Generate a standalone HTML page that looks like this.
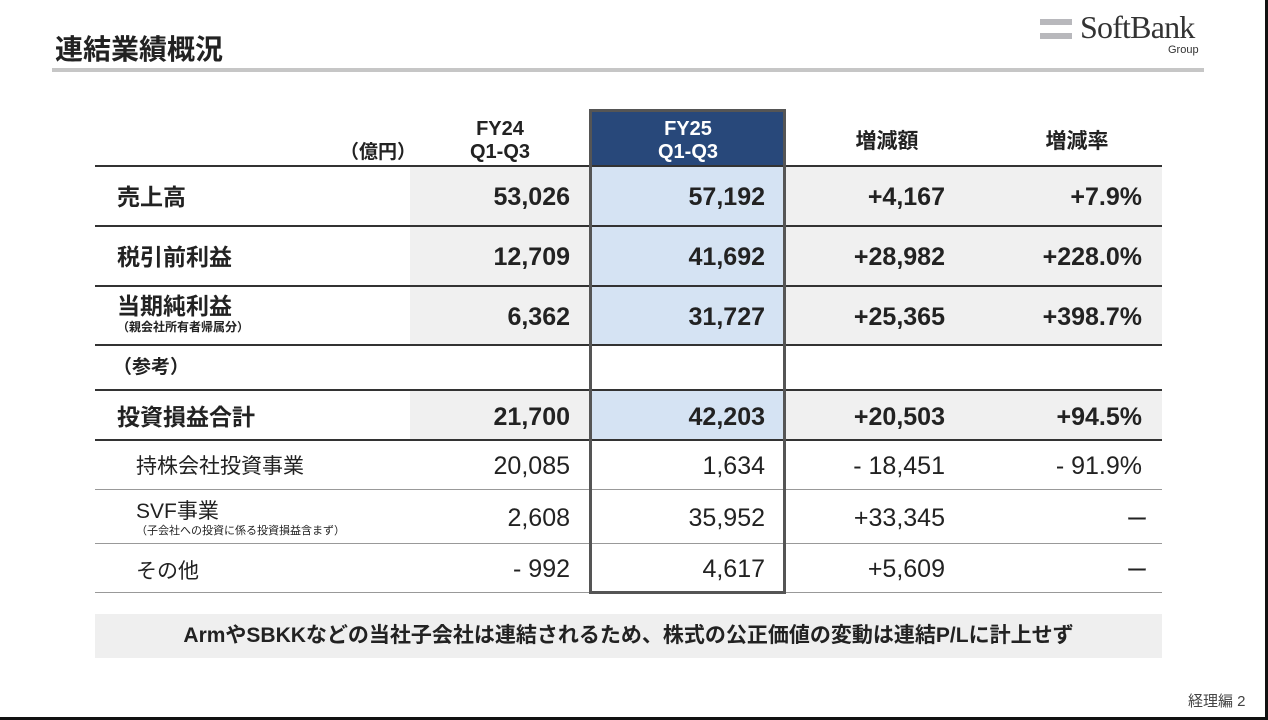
<!DOCTYPE html>
<html><head><meta charset="utf-8"><style>
body{margin:0;width:1268px;height:720px;background:#fff;position:relative;overflow:hidden;font-family:"Liberation Sans","Noto Sans CJK JP",sans-serif;color:#222}
div{position:absolute;box-sizing:border-box}
.t{font-weight:bold}
.bg{background:#f0f0f0}
.bl{background:#d5e3f3}
.ln{height:2px;background:#333;left:95px;width:1067px}
.ls{height:1px;background:#999;left:95px;width:1067px}
.n{text-align:right;font-size:25px;white-space:nowrap;line-height:30px}
.b{font-weight:bold}
.lab{left:117px;font-size:23px;white-space:nowrap;line-height:30px}
.h{text-align:center;font-size:20px;font-weight:bold;line-height:23px}
</style></head><body>
<div class="t" style="left:55px;top:28px;font-size:28px;">連結業績概況</div>
<div style="left:52px;top:68px;width:1152px;height:4px;background:#c6c6c6"></div>
<div style="left:1040px;top:19px;width:32px;height:6px;background:#b8b8bc"></div>
<div style="left:1040px;top:33px;width:32px;height:6px;background:#b8b8bc"></div>
<div style="left:1080px;top:9px;font-family:'Liberation Serif',serif;font-size:32px;color:#333;letter-spacing:-0.8px">SoftBank</div>
<div style="left:1168px;top:44px;font-size:11px;color:#333">Group</div>
<div style="left:1265px;top:0;width:3px;height:720px;background:#111"></div>
<div style="left:0;top:717px;width:1268px;height:3px;background:#111"></div>

<div class="bg" style="left:410px;top:167px;width:180px;height:59px"></div>
<div class="bg" style="left:785px;top:167px;width:377px;height:59px"></div>
<div class="bg" style="left:410px;top:227px;width:180px;height:59px"></div>
<div class="bg" style="left:785px;top:227px;width:377px;height:59px"></div>
<div class="bg" style="left:410px;top:287px;width:180px;height:58px"></div>
<div class="bg" style="left:785px;top:287px;width:377px;height:58px"></div>
<div class="bg" style="left:410px;top:391px;width:180px;height:49px"></div>
<div class="bg" style="left:785px;top:391px;width:377px;height:49px"></div>
<div class="bl" style="left:590px;top:167px;width:195px;height:178px"></div>
<div class="bl" style="left:590px;top:391px;width:195px;height:49px"></div>
<div style="left:590px;top:110px;width:195px;height:57px;background:#28487a"></div>

<div class="ln" style="top:165px"></div>
<div class="ln" style="top:225px"></div>
<div class="ln" style="top:285px"></div>
<div class="ln" style="top:344px"></div>
<div class="ln" style="top:389px"></div>
<div class="ln" style="top:439px"></div>
<div class="ls" style="top:489px"></div>
<div class="ls" style="top:543px"></div>
<div class="ls" style="top:592px"></div>

<div style="left:589px;top:109px;width:197px;height:485px;border:3px solid #555"></div>

<div class="h" style="left:340px;top:141px;font-size:19px">（億円）</div>
<div class="h" style="left:440px;top:118px;width:120px">FY24<br>Q1-Q3</div>
<div class="h" style="left:628px;top:118px;width:120px;color:#fff">FY25<br>Q1-Q3</div>
<div class="h" style="left:827px;top:130px;width:120px;font-size:21px">増減額</div>
<div class="h" style="left:1017px;top:130px;width:120px;font-size:21px">増減率</div>

<div class="lab b" style="top:182px">売上高</div>
<div class="lab b" style="top:242px">税引前利益</div>
<div class="lab b" style="top:291px">当期純利益</div>
<div class="lab b" style="top:319px;font-size:12px;line-height:16px">（親会社所有者帰属分）</div>
<div class="lab b" style="top:353px;font-size:19px;left:113px">（参考）</div>
<div class="lab b" style="top:402px">投資損益合計</div>
<div class="lab" style="top:452px;left:136px;font-size:21px">持株会社投資事業</div>
<div class="lab" style="top:497px;left:136px;font-size:21px">SVF事業</div>
<div class="lab" style="top:524px;left:136px;font-size:11px;line-height:14px">（子会社への投資に係る投資損益含まず）</div>
<div class="lab" style="top:557px;left:136px;font-size:21px">その他</div>

<div class="n b" style="top:182px;right:698px">53,026</div>
<div class="n b" style="top:182px;right:503px">57,192</div>
<div class="n b" style="top:182px;right:323px">+4,167</div>
<div class="n b" style="top:182px;right:126px">+7.9%</div>

<div class="n b" style="top:242px;right:698px">12,709</div>
<div class="n b" style="top:242px;right:503px">41,692</div>
<div class="n b" style="top:242px;right:323px">+28,982</div>
<div class="n b" style="top:242px;right:126px">+228.0%</div>

<div class="n b" style="top:302px;right:698px">6,362</div>
<div class="n b" style="top:302px;right:503px">31,727</div>
<div class="n b" style="top:302px;right:323px">+25,365</div>
<div class="n b" style="top:302px;right:126px">+398.7%</div>

<div class="n b" style="top:402px;right:698px">21,700</div>
<div class="n b" style="top:402px;right:503px">42,203</div>
<div class="n b" style="top:402px;right:323px">+20,503</div>
<div class="n b" style="top:402px;right:126px">+94.5%</div>

<div class="n" style="top:451px;right:698px">20,085</div>
<div class="n" style="top:451px;right:503px">1,634</div>
<div class="n" style="top:451px;right:323px">- 18,451</div>
<div class="n" style="top:451px;right:126px">- 91.9%</div>

<div class="n" style="top:503px;right:698px">2,608</div>
<div class="n" style="top:503px;right:503px">35,952</div>
<div class="n" style="top:503px;right:323px">+33,345</div>
<div class="n" style="top:503px;right:120px;font-family:'Noto Sans CJK JP',sans-serif;font-size:22px">ー</div>

<div class="n" style="top:554px;right:698px">- 992</div>
<div class="n" style="top:554px;right:503px">4,617</div>
<div class="n" style="top:554px;right:323px">+5,609</div>
<div class="n" style="top:554px;right:120px;font-family:'Noto Sans CJK JP',sans-serif;font-size:22px">ー</div>

<div style="left:95px;top:614px;width:1067px;height:44px;background:#efefef;text-align:center;font-size:21px;font-weight:bold;line-height:44px">ArmやSBKKなどの当社子会社は連結されるため、株式の公正価値の変動は連結P/Lに計上せず</div>
<div style="left:1188px;top:690px;font-size:15px;color:#444">経理編 2</div>
</body></html>
